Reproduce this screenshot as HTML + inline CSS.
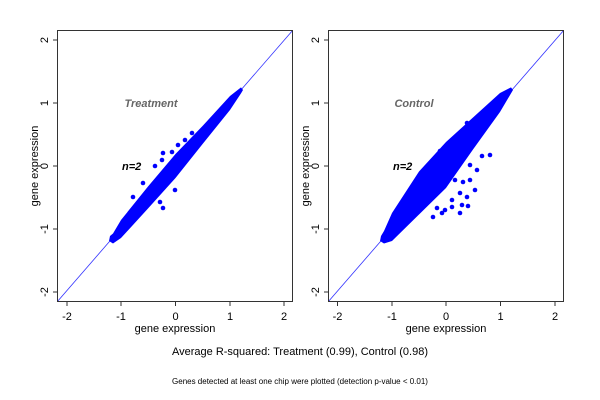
<!DOCTYPE html>
<html><head><meta charset="utf-8"><style>
html,body{margin:0;padding:0;background:#fff}
svg{display:block;font-family:"Liberation Sans",sans-serif}
</style></head><body>
<svg width="600" height="400" viewBox="0 0 600 400">
<defs>
<clipPath id="c1"><rect x="57" y="30" width="236" height="272"/></clipPath>
<clipPath id="c2"><rect x="328" y="30" width="236" height="272"/></clipPath>
</defs>
<!-- Plot 1 -->
<g clip-path="url(#c1)">
<line x1="57" y1="302" x2="293" y2="30" stroke="#3333ff" stroke-width="0.8"/>
<g fill="#0000ff">
<polygon points="110,236 113,233.5 121,220 148,186.5 175.5,154 203,125.5 230,96 241,87.4 243,90 241,93.4 230,110 203,143.5 175.5,178 148,208.5 121,238 113,243.5 109,241"/>
<circle cx="192" cy="133" r="2.3"/><circle cx="185" cy="140" r="2.3"/><circle cx="178" cy="145" r="2.3"/>
<circle cx="172" cy="152" r="2.3"/><circle cx="163" cy="153" r="2.3"/><circle cx="162" cy="160" r="2.3"/>
<circle cx="155" cy="166" r="2.3"/><circle cx="175" cy="190" r="2.3"/><circle cx="160" cy="202" r="2.3"/>
<circle cx="163" cy="208" r="2.3"/><circle cx="143" cy="183" r="2.3"/><circle cx="133" cy="197" r="2.3"/>
</g>
</g>
<rect x="57.5" y="30.5" width="235" height="271" fill="none" stroke="#333" stroke-width="1"/>
<text x="151" y="107" fill="#666" font-size="11" font-style="italic" font-weight="bold" text-anchor="middle">Treatment</text>
<text x="122" y="170" fill="#000" font-size="11" font-style="italic" font-weight="bold">n=2</text>
<g stroke="#333"><line x1="67" y1="302" x2="67" y2="306"/><line x1="121" y1="302" x2="121" y2="306"/><line x1="175.5" y1="302" x2="175.5" y2="306"/><line x1="230" y1="302" x2="230" y2="306"/><line x1="284" y1="302" x2="284" y2="306"/>
<line x1="53" y1="40" x2="57" y2="40"/><line x1="53" y1="103" x2="57" y2="103"/><line x1="53" y1="166" x2="57" y2="166"/><line x1="53" y1="229" x2="57" y2="229"/><line x1="53" y1="292" x2="57" y2="292"/></g>
<g font-size="11" text-anchor="middle" fill="#000">
<text x="67" y="320">-2</text><text x="121" y="320">-1</text><text x="175.5" y="320">0</text><text x="230" y="320">1</text><text x="284" y="320">2</text>
<text x="175" y="332">gene expression</text>
<text transform="translate(48,40) rotate(-90)">2</text><text transform="translate(48,103) rotate(-90)">1</text><text transform="translate(48,166) rotate(-90)">0</text><text transform="translate(48,229) rotate(-90)">-1</text><text transform="translate(48,292) rotate(-90)">-2</text>
<text transform="translate(38,166) rotate(-90)">gene expression</text>
</g>
<!-- Plot 2 -->
<g clip-path="url(#c2)">
<line x1="328" y1="302" x2="564" y2="30" stroke="#3333ff" stroke-width="0.8"/>
<g fill="#0000ff">
<polygon points="381,236 384,231 392,213 419,171.5 446,142 473,117.5 500,93 511,87.4 513,90 511,93.4 500,112 473,149.5 446,188 419,214.5 392,241 384,243.5 380,241"/>
<circle cx="467" cy="123" r="2.3"/><circle cx="450" cy="142" r="2.3"/><circle cx="440" cy="151" r="2.3"/>
<circle cx="482" cy="156" r="2.3"/><circle cx="490" cy="155" r="2.3"/><circle cx="477" cy="170" r="2.3"/>
<circle cx="470" cy="180" r="2.3"/><circle cx="475" cy="190" r="2.3"/><circle cx="467" cy="197" r="2.3"/>
<circle cx="460" cy="193" r="2.3"/><circle cx="452" cy="200" r="2.3"/><circle cx="462" cy="205" r="2.3"/>
<circle cx="468" cy="206" r="2.3"/><circle cx="452" cy="207" r="2.3"/><circle cx="460" cy="213" r="2.3"/>
<circle cx="442" cy="213" r="2.3"/><circle cx="433" cy="217" r="2.3"/><circle cx="445" cy="210" r="2.3"/>
<circle cx="437" cy="208" r="2.3"/><circle cx="455" cy="180" r="2.3"/><circle cx="463" cy="182" r="2.3"/>
<circle cx="420" cy="205" r="2.3"/><circle cx="470" cy="165" r="2.3"/>
</g>
</g>
<rect x="328.5" y="30.5" width="235" height="271" fill="none" stroke="#333" stroke-width="1"/>
<text x="414" y="107" fill="#666" font-size="11" font-style="italic" font-weight="bold" text-anchor="middle">Control</text>
<text x="393" y="170" fill="#000" font-size="11" font-style="italic" font-weight="bold">n=2</text>
<g stroke="#333"><line x1="337.5" y1="302" x2="337.5" y2="306"/><line x1="392" y1="302" x2="392" y2="306"/><line x1="446" y1="302" x2="446" y2="306"/><line x1="500.5" y1="302" x2="500.5" y2="306"/><line x1="555" y1="302" x2="555" y2="306"/>
<line x1="324" y1="40" x2="328" y2="40"/><line x1="324" y1="103" x2="328" y2="103"/><line x1="324" y1="166" x2="328" y2="166"/><line x1="324" y1="229" x2="328" y2="229"/><line x1="324" y1="292" x2="328" y2="292"/></g>
<g font-size="11" text-anchor="middle" fill="#000">
<text x="337.5" y="320">-2</text><text x="392" y="320">-1</text><text x="446" y="320">0</text><text x="500.5" y="320">1</text><text x="555" y="320">2</text>
<text x="446" y="332">gene expression</text>
<text transform="translate(319,40) rotate(-90)">2</text><text transform="translate(319,103) rotate(-90)">1</text><text transform="translate(319,166) rotate(-90)">0</text><text transform="translate(319,229) rotate(-90)">-1</text><text transform="translate(319,292) rotate(-90)">-2</text>
<text transform="translate(309,166) rotate(-90)">gene expression</text>
</g>
<text x="300" y="355" font-size="11" text-anchor="middle">Average R-squared: Treatment (0.99), Control (0.98)</text>
<text x="300" y="384" font-size="8" text-anchor="middle">Genes detected at least one chip were plotted (detection p-value &lt; 0.01)</text>
</svg>
</body></html>
